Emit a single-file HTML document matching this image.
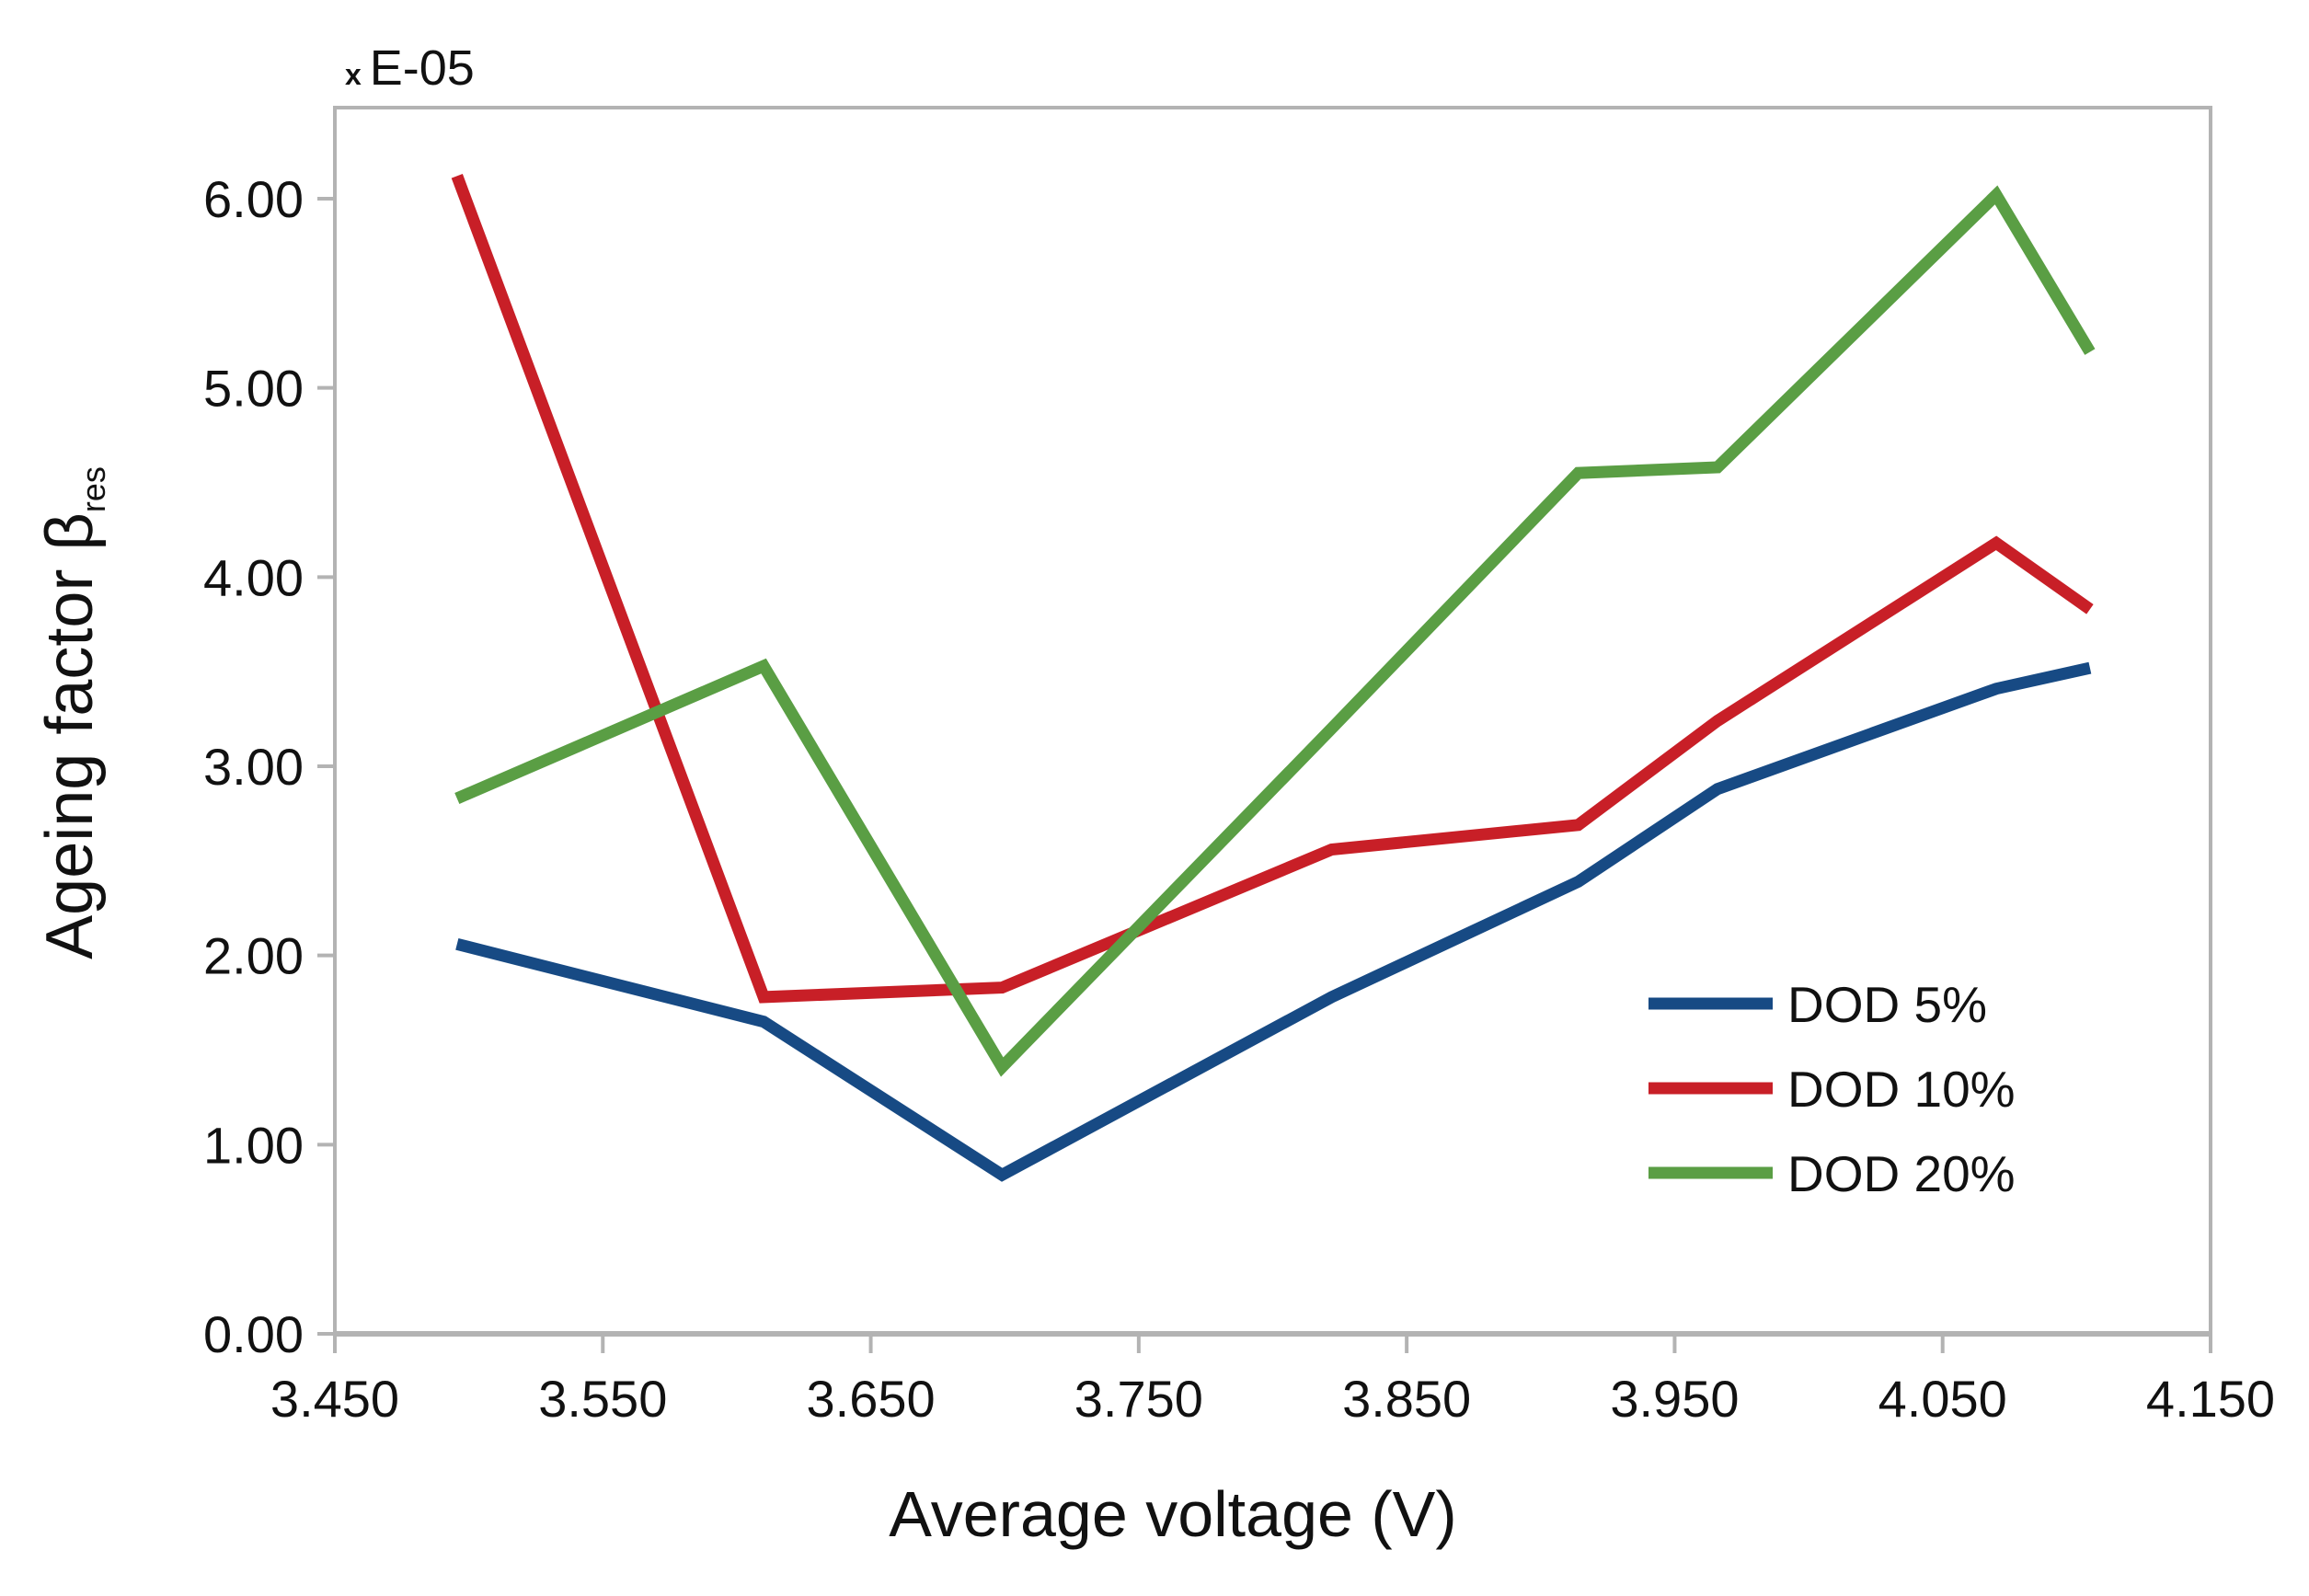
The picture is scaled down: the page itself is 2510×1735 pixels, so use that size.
<!DOCTYPE html>
<html><head><meta charset="utf-8"><style>
html,body{margin:0;padding:0;background:#fff;}
svg{display:block;font-family:"Liberation Sans",sans-serif;}
</style></head><body>
<svg id="chart" width="2510" height="1735" viewBox="0 0 2510 1735" xmlns="http://www.w3.org/2000/svg">
<rect x="0" y="0" width="2510" height="1735" fill="#fff"/>
<g id="grid"></g>
<g id="series"></g>
<g id="legend"></g>
</svg>
<script>
const xVals = [3.4956, 3.610, 3.699, 3.822, 3.914, 3.966, 4.070, 4.105];
const dod5 = [2.06, 1.65, 0.84, 1.78, 2.39, 2.88, 3.41, 3.52];
const dod10 = [6.12, 1.78, 1.83, 2.56, 2.69, 3.24, 4.18, 3.83];
const dod20 = [2.83, 3.53, 1.41, 3.20, 4.55, 4.58, 6.02, 5.19];
const xTicks = [3.45, 3.55, 3.65, 3.75, 3.85, 3.95, 4.05, 4.15];
const xTickLabels = ["3.450","3.550","3.650","3.750","3.850","3.950","4.050","4.150"];
const yTicks = [0,1,2,3,4,5,6];
const yTickLabels = ["0.00","1.00","2.00","3.00","4.00","5.00","6.00"];
const seriesNames = ["DOD 5%","DOD 10%","DOD 20%"];
const seriesColors = ["#174a84","#c81f27","#5a9e44"];

const NS="http://www.w3.org/2000/svg";
const L=364,R=2403,T=117,B=1450,Y6=216;
function xs(v){return L+(v-3.45)/(0.7)*(R-L);}
function ys(v){return B-v*(B-Y6)/6;}
function mk(tag,attrs,parent,text){const e=document.createElementNS(NS,tag);for(const k in attrs)e.setAttribute(k,attrs[k]);if(text!==undefined)e.textContent=text;parent.appendChild(e);return e;}
const grid=document.getElementById('grid');
let e;
e=mk('rect',{x:L,y:T,width:R-L,height:B-T,fill:'none',stroke:'#b3b3b3','stroke-width':4},grid);


e=mk('line',{x1:L-2,y1:B,x2:R+2,y2:B,stroke:'#b3b3b3','stroke-width':6},grid);


yTicks.forEach((v,i)=>{
  const y=ys(v);
  let t=mk('line',{x1:L-19,y1:y,x2:L,y2:y,stroke:'#b3b3b3','stroke-width':4},grid);
  
  
  let lb=mk('text',{x:330,y:y+20,'font-size':56,'text-anchor':'end',fill:'#111'},grid,yTickLabels[i]);
  
  
});
xTicks.forEach((v,i)=>{
  const x=xs(v);
  let t=mk('line',{x1:x,y1:B,x2:x,y2:1471,stroke:'#b3b3b3','stroke-width':4},grid);
  
  
  let lb=mk('text',{x:x,y:1540,'font-size':56,'text-anchor':'middle',fill:'#111'},grid,xTickLabels[i]);
  
  
});
e=mk('text',{x:1275,y:1670,'font-size':70,'text-anchor':'middle',fill:'#111'},grid,'Average voltage (V)');


e=mk('text',{transform:'translate(100,775) rotate(-90)','font-size':72,'text-anchor':'middle',fill:'#111'},grid);


mk('tspan',{},e,'Ageing factor β');
mk('tspan',{'font-size':36,dy:14},e,'res');
e=mk('text',{x:375,y:92,fill:'#111'},grid);


mk('tspan',{'font-size':32,'font-weight':'bold'},e,'x ');
mk('tspan',{'font-size':54},e,'E-05');

const sg=document.getElementById('series');
[dod5,dod10,dod20].forEach((ser,si)=>{
  const pts=ser.map((v,i)=>xs(xVals[i]).toFixed(1)+','+ys(v).toFixed(1)).join(' ');
  let p=mk('polyline',{points:pts,fill:'none',stroke:seriesColors[si],'stroke-width':13,'stroke-linejoin':'miter'},sg);
  
  
});
const lg=document.getElementById('legend');
seriesNames.forEach((n,i)=>{
  const y=1091+i*92;
  let g=mk('g',{},lg);
  
  
  mk('line',{x1:1792,y1:y,x2:1927,y2:y,stroke:seriesColors[i],'stroke-width':13},g);
  mk('text',{x:1943,y:y+20,'font-size':55,fill:'#111'},g,n);
});
</script>
</body></html>
